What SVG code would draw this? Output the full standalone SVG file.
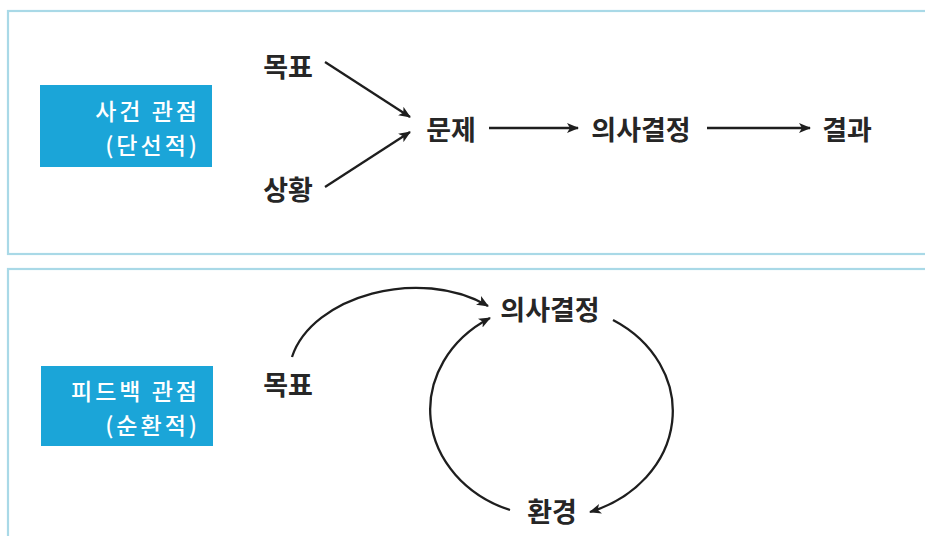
<svg xmlns="http://www.w3.org/2000/svg" width="925" height="536" viewBox="0 0 925 536">
  <style>
    .panel { fill: #ffffff; stroke: #a9d9e7; stroke-width: 2.2; }
    .badge { fill: #1ba5d8; }
    .btxt { font-family: "Noto Sans CJK KR", "Noto Sans", sans-serif; font-size: 23px; font-weight: 500; fill: #ffffff; letter-spacing: 3px; text-anchor: end; dominant-baseline: central; }
    .lbl { font-family: "Noto Sans CJK KR", "Noto Sans", sans-serif; font-size: 27px; font-weight: 700; fill: #262626; text-anchor: middle; dominant-baseline: central; }
    .conn { fill: none; stroke: #1e1e1e; stroke-width: 2.3; marker-end: url(#ah); }
  </style>
  <defs>
    <marker id="ah" markerUnits="userSpaceOnUse" markerWidth="12" markerHeight="10" refX="11" refY="5" orient="auto">
      <path d="M0,0 L12,5 L0,10 L3,5 Z" fill="#1e1e1e"/>
    </marker>
  </defs>
  <rect width="925" height="536" fill="#ffffff"/>

  <g id="panel-top">
    <rect class="panel" x="8" y="11" width="940" height="243"/>
  </g>
  <g id="panel-bottom">
    <rect class="panel" x="8" y="269" width="940" height="300"/>
  </g>

  <g id="badge-linear">
    <rect class="badge" x="40" y="85" width="172" height="82"/>
    <text class="btxt" x="200" y="110">사건 관점</text>
    <text class="btxt" x="200" y="144">(단선적)</text>
  </g>
  <g id="badge-feedback">
    <rect class="badge" x="41" y="366" width="172" height="80"/>
    <text class="btxt" x="200" y="390">피드백 관점</text>
    <text class="btxt" x="200" y="424">(순환적)</text>
  </g>

  <g id="t-goal"><text class="lbl" x="288" y="65">목표</text></g>
  <g id="t-situation"><text class="lbl" x="288" y="188">상황</text></g>
  <g id="t-problem"><text class="lbl" x="451" y="128">문제</text></g>
  <g id="t-decision"><text class="lbl" x="641" y="128">의사결정</text></g>
  <g id="t-result"><text class="lbl" x="847" y="128">결과</text></g>

  <g id="b-decision"><text class="lbl" x="550" y="308">의사결정</text></g>
  <g id="b-goal"><text class="lbl" x="288" y="383">목표</text></g>
  <g id="b-environment"><text class="lbl" x="552" y="510">환경</text></g>

  <g id="connectors">
    <line class="conn" x1="325" y1="62" x2="410" y2="117"/>
    <line class="conn" x1="325" y1="187" x2="410" y2="132"/>
    <line class="conn" x1="489" y1="128" x2="578" y2="128"/>
    <line class="conn" x1="707" y1="128" x2="810" y2="128"/>

    <path class="conn" d="M292,357 C312,296 420,266 488,306"/>
    <path class="conn" d="M613,320 A125,107 0 0 1 590,512"/>
    <path class="conn" d="M510,510 A123,107 0 0 1 490,318"/>
  </g>
</svg>
